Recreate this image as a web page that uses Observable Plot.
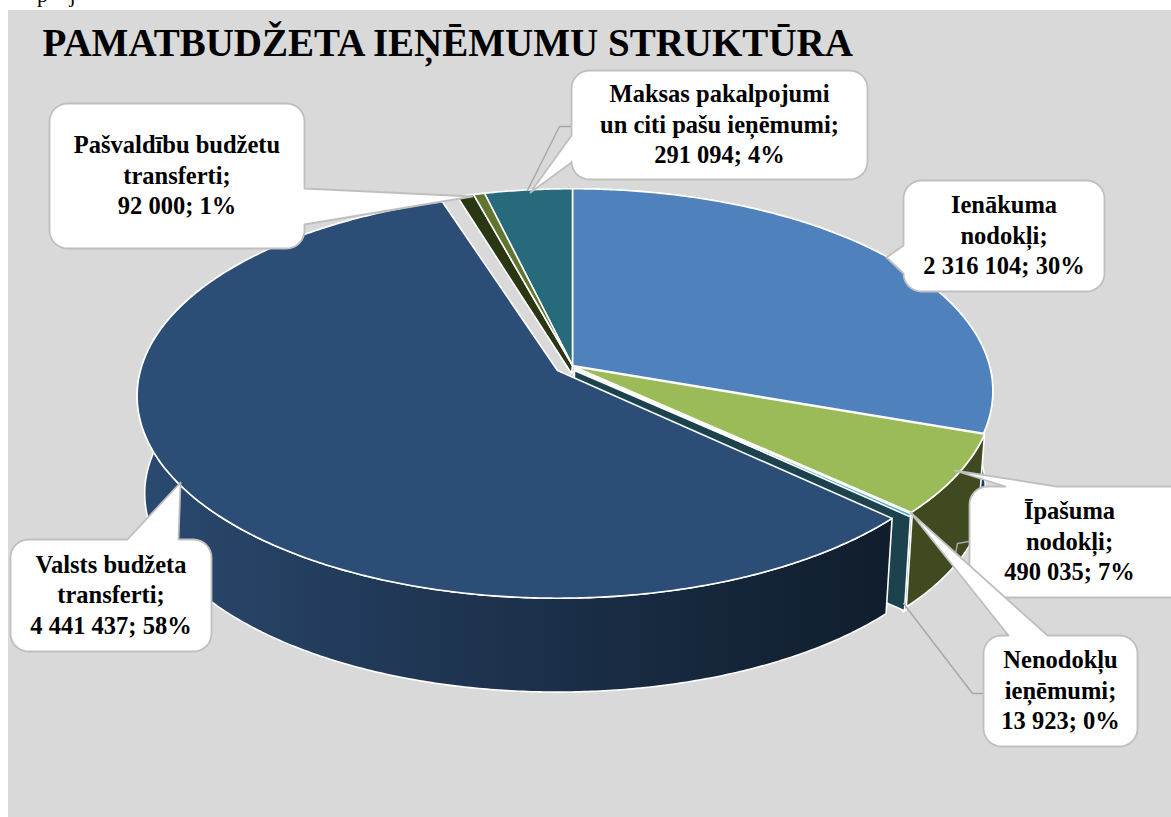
<!DOCTYPE html>
<html><head><meta charset="utf-8">
<script src="https://cdn.jsdelivr.net/npm/d3@7"></script>
<script src="https://cdn.jsdelivr.net/npm/@observablehq/plot@0.6"></script>
<style>html,body{margin:0;padding:0;background:#fff}svg{display:block}</style>
</head><body><div id="chart"></div>
<script>
// ---- data ----
const categories = ["Ienākuma nodokļi","Īpašuma nodokļi","Nenodokļu ieņēmumi","Valsts budžeta transferti","Pašvaldību budžetu transferti","Maksas pakalpojumi un citi pašu ieņēmumi"];
const values = [2316104, 490035, 13923, 4441437, 92000, 291094];
const percents = [30, 7, 0, 58, 1, 4];
const labelLines = [
  ["Ienākuma","nodokļi;","2 316 104; 30%"],
  ["Īpašuma","nodokļi;","490 035; 7%"],
  ["Nenodokļu","ieņēmumi;","13 923; 0%"],
  ["Valsts budžeta","transferti;","4 441 437; 58%"],
  ["Pašvaldību budžetu","transferti;","92 000; 1%"],
  ["Maksas pakalpojumi","un citi pašu ieņēmumi;","291 094; 4%"]
];
const titleText = "PAMATBUDŽETA IEŅĒMUMU STRUKTŪRA";
const topColors = ["#4f81bd","#9bbb59","#4bacc6","#2c4d75","#5f7530","#276a7c"];
const sideColors = ["#1f3d63","#3f4a20","#1c434d","url(#sideGrad)","#2b3613","#1c4c59"];

// ---- layout ----
const W = 1171, H = 817;
const persp = 0.126, RX = 417, RY = 199, DEPTH = 98, SHRINK = 0.982;
const centers = [[572,365],[573,366],[574,368],[557,370],[572,365],[572,365]];
// callouts: box, wedge tip, wedge base along one side
const boxes = [
 {x1:903,x2:1104,y1:180,y2:291,side:"left",tip:[886,257],b:[245,273]},
 {x1:969,x2:1195,y1:486,y2:597,side:"top",tip:[954,470],b:[1005,1056]},
 {x1:983,x2:1137,y1:635,y2:746,side:"top",tip:[910,512],b:[1008,1047]},
 {x1:10,x2:211,y1:539,y2:651,side:"top",tip:[180,482],b:[127,178]},
 {x1:49,x2:304,y1:103,y2:248,side:"right",tip:[472,196],b:[188,224]},
 {x1:571,x2:867,y1:70,y2:179,side:"left",tip:[530,192],b:[135,162]}
];
const elbows = [
 [[968,541],[957,543],[955,553]],
 [[903,603],[972,693],[983,693]],
 [[527,190],[559,126],[571,126]]
];

// ---- geometry from the values ----
const total = d3.sum(values);
const arcs = []; { let a = 0; for (const v of values) { const s = a; a += v/total*360; arcs.push([s,a]); } }
function proj(c, deg, depth = 0) {
  const t = deg*Math.PI/180, u = Math.sin(t), v = Math.cos(t), w = 1 + persp*v;
  const k = depth ? SHRINK : 1;
  return [c[0] + k*RX*u/w, c[1] + (depth?DEPTH:0) - k*RY*v/w];
}
function rim(c, a0, a1, depth = 0) {
  const n = Math.max(2, Math.ceil(Math.abs(a1-a0)/0.5));
  return d3.range(n+1).map(i => proj(c, a0+(a1-a0)*i/n, depth));
}
const rows = [];
function poly(id, pts, fill) { pts.concat([pts[0]]).forEach(p => rows.push({id, x:p[0], y:p[1], fill})); }
const faces = [];
function face(pts, fill, sw = 1.6, stroke = "#fff") { faces.push(Plot.line(pts.concat([pts[0]]), {x:d=>d[0], y:d=>d[1], fill, stroke, strokeWidth:sw, curve:"linear"})); }

// outer walls, back to front
[0,1,2].forEach(i => { const [s,e] = arcs[i], c = centers[i];
  face([...rim(c,s,e), ...rim(c,e,s,1)], sideColors[i]); });
// radial wall of the thin slice, seen through the gap
{ const [s,e] = arcs[2], c = centers[2];
  face([[c[0],c[1]+2], proj(c,e-0.3), proj(c,e-0.3,1), [c[0]-2,c[1]+DEPTH]], sideColors[2]); }
// radial wall of the small green slice
{ const [s,e] = arcs[4], c = centers[4], m = s + (e-s)*0.6;
  face([proj(c,s), proj(c,m), c, [c[0]-1,c[1]+8]], sideColors[4]); }
// large slice
{ const [s,e] = arcs[3], c = centers[3];
  face([...rim(c,s,e), ...rim(c,e,s,1)], sideColors[3]);
  face([c, ...rim(c,s,e)], topColors[3]); }
// top faces
[0,1,2,5].forEach(i => { const [s,e] = arcs[i], c = centers[i];
  face([c, ...rim(c,s,e)], topColors[i]); });
{ const [s,e] = arcs[4], c = centers[4], m = s + (e-s)*0.6;
  face([c, ...rim(c,m,e)], topColors[4]); }

// callout outline = rounded box with a wedge
function callout(b, r = 18) {
  const pts = [];
  const corner = (cx,cy,a0) => d3.range(0,9).forEach(i => { const a=(a0+i*90/8)*Math.PI/180; pts.push([cx+r*Math.cos(a),cy+r*Math.sin(a)]); });
  corner(b.x1+r,b.y1+r,180);
  if (b.side==="top") pts.push([b.b[0],b.y1],b.tip,[b.b[1],b.y1]);
  corner(b.x2-r,b.y1+r,270);
  if (b.side==="right") pts.push([b.x2,b.b[0]],b.tip,[b.x2,b.b[1]]);
  corner(b.x2-r,b.y2-r,0);
  corner(b.x1+r,b.y2-r,90);
  if (b.side==="left") pts.push([b.x1,b.b[1]],b.tip,[b.x1,b.b[0]]);
  return pts;
}
const textRows = labelLines.flatMap((ls,i) => ls.map((t,j) => {
  const b = boxes[i], xr = Math.min(b.x2, W + (i===1?4:0));
  return {t, x:(b.x1+(i===1?1171:b.x2))/2 + (i===1?-1:0), y:(b.y1+b.y2)/2 + (j-1)*30.5};
}));

const chart = Plot.plot({
  width:W, height:H, margin:0,
  x:{domain:[0,W], range:[0,W], axis:null},
  y:{domain:[0,H], range:[0,H], axis:null},
  marks:[
    () => { const s = d3.create("svg:defs");
      const g = s.append("linearGradient").attr("id","sideGrad").attr("x1",0).attr("x2",1).attr("y1",0).attr("y2",0);
      [[0,"#2a4a70"],[0.25,"#233c5c"],[0.6,"#192d45"],[1,"#101d2c"]].forEach(d=>g.append("stop").attr("offset",d[0]).attr("stop-color",d[1]));
      return s.node(); },
    Plot.rect([0],{x1:8,x2:W,y1:10,y2:H,fill:"#d9d9d9"}),
    Plot.text(["p","j"],{x:[42,72],y:[-6,-6],text:d=>d,fontFamily:"Liberation Serif",fontSize:22,fill:"#000",textAnchor:"middle",lineAnchor:"middle"}),
    ...faces,
    ...elbows.map(e => Plot.line(e,{x:d=>d[0],y:d=>d[1],stroke:"#a6a6a6",strokeWidth:1.4,curve:"linear"})),
    ...boxes.map(b => { const p = callout(b); return Plot.line(p.concat([p[0]]),{x:d=>d[0],y:d=>d[1],fill:"#fff",stroke:"#bfbfbf",strokeWidth:1.8,curve:"linear"}); }),
    Plot.text([titleText],{x:[42],y:[43],text:d=>d,textAnchor:"start",fontFamily:"Liberation Serif",fontWeight:"bold",fontSize:39,fill:"#000"}),
    Plot.text(textRows,{x:"x",y:"y",text:"t",fontFamily:"Liberation Serif",fontWeight:"bold",fontSize:24.5,fill:"#000",lineAnchor:"middle"})
  ]
});
document.getElementById("chart").append(chart);
</script></body></html>
